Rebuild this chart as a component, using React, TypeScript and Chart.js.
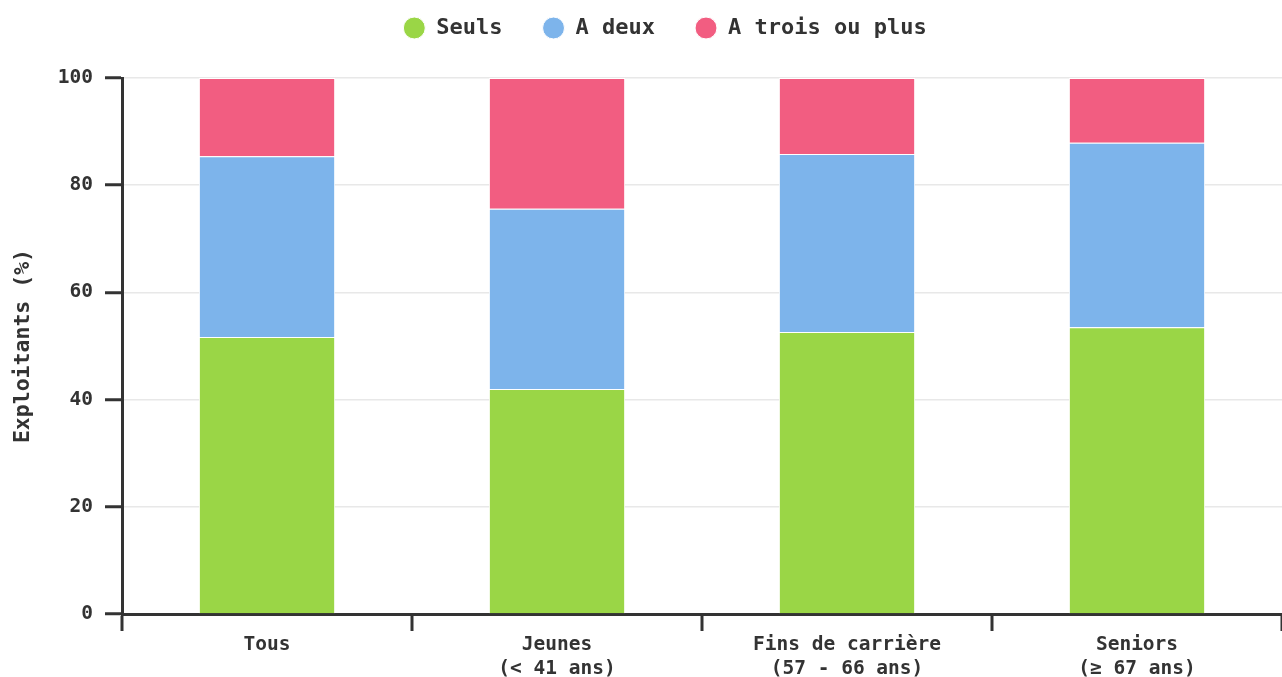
import React, { useEffect, useRef } from "react";
import { Chart, registerables } from "chart.js";

Chart.register(...registerables);

const categories: (string | string[])[] = [
  "Tous",
  ["Jeunes", "(< 41 ans)"],
  ["Fins de carrière", "(57 - 66 ans)"],
  ["Seniors", "(≥ 67 ans)"],
];
const seuls = [51.7, 42.0, 52.6, 53.5];
const aDeux = [33.7, 33.6, 33.2, 34.4];
const aTrois = [14.6, 24.4, 14.2, 12.1];
const yTicks = [0, 20, 40, 60, 80, 100];

const FONT = "'DejaVu Sans Mono', monospace";

// layout tweak for the legend block (extra gap below, offset)
const LEGEND_EXTRA_HEIGHT = 6;
const LEGEND_DY = -23;
const LEGEND_DX = 23;

const legendTweak = {
  id: "legendTweak",
  beforeLayout(chart: any) {
    const lg = chart.legend;
    if (lg && !lg._patched) {
      const orig = lg.fit;
      lg.fit = function () {
        orig.call(this);
        this.height += LEGEND_EXTRA_HEIGHT;
      };
      lg._patched = true;
    }
  },
  afterLayout(chart: any) {
    const lg = chart.legend;
    if (!lg) return;
    lg.top += LEGEND_DY;
    lg.bottom += LEGEND_DY;
    lg.left += LEGEND_DX;
    lg.right += LEGEND_DX;
  },
};

export default function App() {
  const ref = useRef<HTMLCanvasElement | null>(null);
  useEffect(() => {
    document.body.style.margin = "0";
    const canvas = ref.current!;
    const chart = new Chart(canvas, {
      type: "bar",
      data: {
        labels: categories,
        datasets: [
          { label: "Seuls", data: seuls, backgroundColor: "#9ad646", borderColor: "#ffffff", borderWidth: 1 },
          { label: "A deux", data: aDeux, backgroundColor: "#7db4eb", borderColor: "#ffffff", borderWidth: 1 },
          { label: "A trois ou plus", data: aTrois, backgroundColor: "#f25d81", borderColor: "#ffffff", borderWidth: 1 },
        ],
      },
      plugins: [legendTweak],
      options: {
        responsive: false,
        animation: false,
        layout: { padding: { top: 0, right: 0, left: 2, bottom: -6 } },
        datasets: { bar: { categoryPercentage: 1, barPercentage: 0.47 } },
        plugins: {
          legend: {
            position: "top",
            labels: {
              usePointStyle: true,
              pointStyle: "circle",
              boxWidth: 24,
              boxHeight: 15.5,
              color: "#333",
              padding: 40,
              font: { family: FONT, size: 22, weight: "bold" },
            },
          },
          tooltip: { enabled: false },
        },
        scales: {
          x: {
            stacked: true,
            grid: {
              offset: true,
              drawOnChartArea: false,
              tickLength: 17,
              tickColor: "#333",
              tickWidth: 3,
              lineWidth: 2,
            },
            border: { color: "#333", width: 3 },
            ticks: {
              color: "#333",
              font: { family: FONT, size: 19.5, weight: "bold", lineHeight: 1.23 },
              padding: 2,
              maxRotation: 0,
            },
          },
          y: {
            stacked: true,
            min: 0,
            max: 100,
            afterBuildTicks: (axis: any) => {
              axis.ticks = yTicks.map((v) => ({ value: v }));
            },
            grid: {
              color: "#e8e8e8",
              tickColor: "#333",
              tickWidth: 3,
              tickLength: 17,
              lineWidth: 1.5,
            },
            border: { color: "#333", width: 3 },
            ticks: {
              color: "#333",
              font: { family: FONT, size: 19.5, weight: "bold" },
              padding: 12,
            },
            title: {
              display: true,
              text: "Exploitants (%)",
              color: "#333",
              font: { family: FONT, size: 21.5, weight: "bold" },
              padding: 9,
            },
          },
        },
      },
    } as any);
    return () => chart.destroy();
  }, []);
  return <canvas ref={ref} width={1282} height={677} style={{ display: "block" }} />;
}
